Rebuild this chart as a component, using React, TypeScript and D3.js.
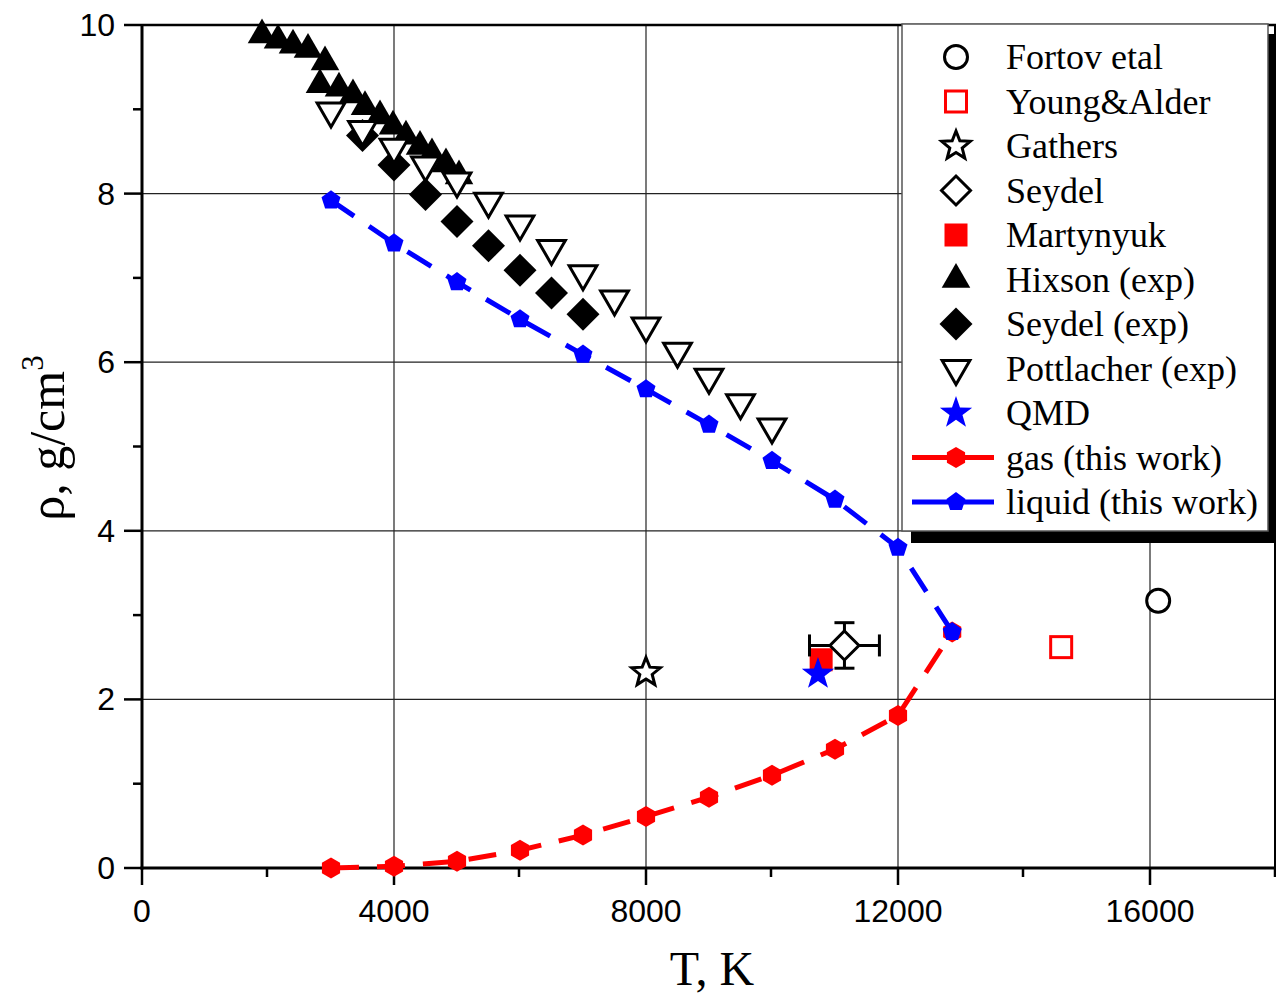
import * as d3 from "d3";

// phase diagram data (T in K, rho in g/cm^3)
const hixsonT = [1905, 2159, 2397, 2635, 2905, 2825, 3127, 3349, 3540, 3778, 3984, 4190, 4413, 4603, 4825, 5032];
const hixsonRho = [9.88, 9.82, 9.76, 9.71, 9.56, 9.29, 9.25, 9.17, 9.03, 8.92, 8.8, 8.68, 8.56, 8.47, 8.35, 8.21];

const seydelExpT = [3500, 4000, 4500, 5000, 5500, 6000, 6500, 7000];
const seydelExpRho = [8.69, 8.34, 7.99, 7.67, 7.38, 7.09, 6.82, 6.57];

const pottT = [3000, 3500, 4000, 4500, 5000, 5500, 6000, 6500, 7000, 7500, 8000, 8500, 9000, 9500, 10000];
const pottRho = [8.98, 8.76, 8.55, 8.34, 8.15, 7.91, 7.64, 7.35, 7.05, 6.75, 6.43, 6.13, 5.82, 5.52, 5.23];

const liquidT = [3000, 4000, 5000, 6000, 7000, 8000, 9000, 10000, 11000, 12000, 12860];
const liquidRho = [7.92, 7.41, 6.95, 6.51, 6.09, 5.68, 5.26, 4.83, 4.37, 3.8, 2.8];

const gasT = [3000, 4000, 5000, 6000, 7000, 8000, 9000, 10000, 11000, 12000, 12860];
const gasRho = [0.0, 0.02, 0.08, 0.21, 0.39, 0.61, 0.84, 1.1, 1.41, 1.81, 2.8];

const fortov = { T: 16130, rho: 3.17 };
const youngAlder = { T: 14590, rho: 2.62 };
const gathers = { T: 8000, rho: 2.32 };
const seydel = { T: 11150, rho: 2.64, dT: 555, dRho: 0.27 };
const martynyuk = { T: 10780, rho: 2.47 };
const qmd = { T: 10730, rho: 2.3 };

const xTicks = [0, 4000, 8000, 12000, 16000];
const xMinor = [2000, 6000, 10000, 14000, 18000];
const yTicks = [0, 2, 4, 6, 8, 10];
const yMinor = [1, 3, 5, 7, 9];

const legendItems = [
  { label: "Fortov etal", kind: "circle" },
  { label: "Young&Alder", kind: "openSquare" },
  { label: "Gathers", kind: "openStar" },
  { label: "Seydel", kind: "openDiamond" },
  { label: "Martynyuk", kind: "redSquare" },
  { label: "Hixson (exp)", kind: "triUp" },
  { label: "Seydel (exp)", kind: "diamond" },
  { label: "Pottlacher (exp)", kind: "triDown" },
  { label: "QMD", kind: "blueStar" },
  { label: "gas (this work)", kind: "gas" },
  { label: "liquid (this work)", kind: "liquid" },
];

const sansFont = "'Liberation Sans', Arial, sans-serif";
const serifFont = "'Liberation Serif', 'Times New Roman', serif";

function polyPath(n: number, R: number, rot: number) {
  const p = d3.range(n).map((i) => {
    const a = rot + (i * 2 * Math.PI) / n;
    return [R * Math.sin(a), -R * Math.cos(a)];
  });
  return "M" + p.map((q) => q.join(",")).join("L") + "Z";
}

function starPath(R: number, r: number) {
  const p = d3.range(10).map((i) => {
    const a = (i * Math.PI) / 5;
    const rr = i % 2 === 0 ? R : r;
    return [rr * Math.sin(a), -rr * Math.cos(a)];
  });
  return "M" + p.map((q) => q.join(",")).join("L") + "Z";
}

function Marker({ kind, x, y }: { kind: string; x: number; y: number }) {
  const t = `translate(${x},${y})`;
  switch (kind) {
    case "circle":
      return <circle cx={x} cy={y} r={11.5} fill="white" stroke="black" strokeWidth={3} />;
    case "openSquare":
      return <rect x={x - 10.5} y={y - 10.5} width={21} height={21} fill="white" stroke="red" strokeWidth={3} />;
    case "redSquare":
      return <rect x={x - 11.5} y={y - 11.5} width={23} height={23} fill="red" />;
    case "openStar":
      return <path transform={t} d={starPath(15, 6.5)} fill="white" stroke="black" strokeWidth={3} />;
    case "blueStar":
      return <path transform={t} d={starPath(17, 6.8)} fill="blue" />;
    case "openDiamond":
      return <path transform={t} d={polyPath(4, 14.5, 0)} fill="white" stroke="black" strokeWidth={3} />;
    case "diamond":
      return <path transform={t} d={polyPath(4, 16.5, 0)} fill="black" />;
    case "triUp":
      return <path transform={t} d={polyPath(3, 16.5, 0)} fill="black" />;
    case "triDown":
      return <path transform={t} d={polyPath(3, 16, Math.PI)} fill="white" stroke="black" strokeWidth={3} />;
    case "hex":
      return <path transform={t} d={polyPath(6, 10.5, 0)} fill="red" />;
    case "pent":
      return <path transform={t} d={polyPath(5, 10, 0)} fill="blue" />;
    default:
      return null;
  }
}

export default function App() {
  const width = 1276;
  const height = 999;
  const x = d3.scaleLinear().domain([0, 18000]).range([142, 1276]);
  const y = d3.scaleLinear().domain([0, 10]).range([868, 25]);

  const line = d3
    .line<[number, number]>()
    .x((d) => x(d[0]))
    .y((d) => y(d[1]));

  const gasPts = gasT.map((t, i) => [t, gasRho[i]] as [number, number]);
  const liqPts = liquidT.map((t, i) => [t, liquidRho[i]] as [number, number]);

  const x0 = x(0);
  const y0 = y(0);
  const yTop = y(10);
  const xRight = x(18000);

  // legend box
  const lgX = 902;
  const lgY = 24;
  const lgW = 366;
  const lgH = 507;
  const rowY = (i: number) => 57 + i * 44.5;

  return (
    <svg width={width} height={height} style={{ position: "absolute", left: 0, top: 0, background: "white" }}>
      {/* grid */}
      {xTicks.slice(1).map((t) => (
        <line key={`gx${t}`} x1={x(t)} x2={x(t)} y1={yTop} y2={y0} stroke="#222" strokeWidth={1.2} />
      ))}
      {yTicks.slice(1, -1).map((t) => (
        <line key={`gy${t}`} x1={x0} x2={xRight} y1={y(t)} y2={y(t)} stroke="#222" strokeWidth={1.2} />
      ))}

      {/* frame */}
      <line x1={x0} x2={xRight} y1={yTop} y2={yTop} stroke="black" strokeWidth={2.5} />
      <line x1={xRight - 1} x2={xRight - 1} y1={yTop} y2={y0} stroke="black" strokeWidth={2} />
      <line x1={x0} x2={x0} y1={yTop - 1} y2={y0 + 1.5} stroke="black" strokeWidth={3} />
      <line x1={x0 - 1.5} x2={xRight} y1={y0} y2={y0} stroke="black" strokeWidth={3} />

      {/* ticks */}
      {yTicks.map((t) => (
        <line key={`ty${t}`} x1={x0 - 18} x2={x0} y1={y(t)} y2={y(t)} stroke="black" strokeWidth={2.5} />
      ))}
      {yMinor.map((t) => (
        <line key={`tym${t}`} x1={x0 - 9} x2={x0} y1={y(t)} y2={y(t)} stroke="black" strokeWidth={2.5} />
      ))}
      {xTicks.map((t) => (
        <line key={`tx${t}`} x1={x(t)} x2={x(t)} y1={y0} y2={y0 + 17} stroke="black" strokeWidth={2.5} />
      ))}
      {xMinor.map((t) => (
        <line key={`txm${t}`} x1={x(t) - 1} x2={x(t) - 1} y1={y0} y2={y0 + 9} stroke="black" strokeWidth={2.5} />
      ))}

      {/* tick labels */}
      {yTicks.map((t) => (
        <text key={`ly${t}`} x={x0 - 27} y={y(t) + 11} textAnchor="end" fontFamily={sansFont} fontSize={32}>
          {t}
        </text>
      ))}
      {xTicks.map((t) => (
        <text key={`lx${t}`} x={x(t)} y={y0 + 54} textAnchor="middle" fontFamily={sansFont} fontSize={32}>
          {t}
        </text>
      ))}

      {/* axis titles */}
      <text x={712} y={985} textAnchor="middle" fontFamily={serifFont} fontSize={48}>
        T, K
      </text>
      <text transform={`translate(64,438) rotate(-90)`} textAnchor="middle" fontFamily={serifFont} fontSize={50}>
        ρ, g/cm<tspan dy={-21} fontSize={31}>3</tspan>
      </text>

      {/* experimental points */}
      {hixsonT.map((t, i) => (
        <Marker key={`hx${i}`} kind="triUp" x={x(t)} y={y(hixsonRho[i])} />
      ))}
      {seydelExpT.map((t, i) => (
        <Marker key={`se${i}`} kind="diamond" x={x(t)} y={y(seydelExpRho[i])} />
      ))}
      {pottT.map((t, i) => (
        <Marker key={`pt${i}`} kind="triDown" x={x(t)} y={y(pottRho[i])} />
      ))}

      {/* this work */}
      <path d={line(gasPts) ?? ""} fill="none" stroke="red" strokeWidth={5} strokeDasharray="28 18" />
      {gasPts.map((p, i) => (
        <Marker key={`g${i}`} kind="hex" x={x(p[0])} y={y(p[1])} />
      ))}
      <path d={line(liqPts) ?? ""} fill="none" stroke="blue" strokeWidth={5} strokeDasharray="28 18" />
      {liqPts.map((p, i) => (
        <Marker key={`l${i}`} kind="pent" x={x(p[0])} y={y(p[1])} />
      ))}

      {/* single points */}
      <Marker kind="circle" x={x(fortov.T)} y={y(fortov.rho)} />
      <Marker kind="openSquare" x={x(youngAlder.T)} y={y(youngAlder.rho)} />
      <Marker kind="openStar" x={x(gathers.T)} y={y(gathers.rho)} />
      <Marker kind="redSquare" x={x(martynyuk.T)} y={y(martynyuk.rho)} />
      <g stroke="black" strokeWidth={3}>
        <line x1={x(seydel.T - seydel.dT)} x2={x(seydel.T + seydel.dT)} y1={y(seydel.rho)} y2={y(seydel.rho)} />
        <line x1={x(seydel.T - seydel.dT)} x2={x(seydel.T - seydel.dT)} y1={y(seydel.rho) - 11} y2={y(seydel.rho) + 11} />
        <line x1={x(seydel.T + seydel.dT)} x2={x(seydel.T + seydel.dT)} y1={y(seydel.rho) - 11} y2={y(seydel.rho) + 11} />
        <line x1={x(seydel.T)} x2={x(seydel.T)} y1={y(seydel.rho + seydel.dRho)} y2={y(seydel.rho - seydel.dRho)} />
        <line x1={x(seydel.T) - 10} x2={x(seydel.T) + 10} y1={y(seydel.rho + seydel.dRho)} y2={y(seydel.rho + seydel.dRho)} />
        <line x1={x(seydel.T) - 10} x2={x(seydel.T) + 10} y1={y(seydel.rho - seydel.dRho)} y2={y(seydel.rho - seydel.dRho)} />
      </g>
      <Marker kind="openDiamond" x={x(seydel.T)} y={y(seydel.rho)} />
      <Marker kind="blueStar" x={x(qmd.T)} y={y(qmd.rho)} />

      {/* legend */}
      <rect x={lgX + 9} y={lgY + 10} width={lgW} height={lgH + 2} fill="black" />
      <rect x={lgX} y={lgY} width={lgW} height={lgH} fill="white" stroke="#555" strokeWidth={1.5} />
      {legendItems.map((item, i) => {
        const cy = rowY(i);
        return (
          <g key={item.label}>
            {item.kind === "gas" || item.kind === "liquid" ? (
              <>
                <line x1={912} x2={994} y1={cy} y2={cy} stroke={item.kind === "gas" ? "red" : "blue"} strokeWidth={5} />
                <Marker kind={item.kind === "gas" ? "hex" : "pent"} x={956} y={cy} />
              </>
            ) : (
              <Marker kind={item.kind} x={956} y={cy} />
            )}
            <text x={1006} y={cy + 12} fontFamily={serifFont} fontSize={36}>
              {item.label}
            </text>
          </g>
        );
      })}
    </svg>
  );
}
